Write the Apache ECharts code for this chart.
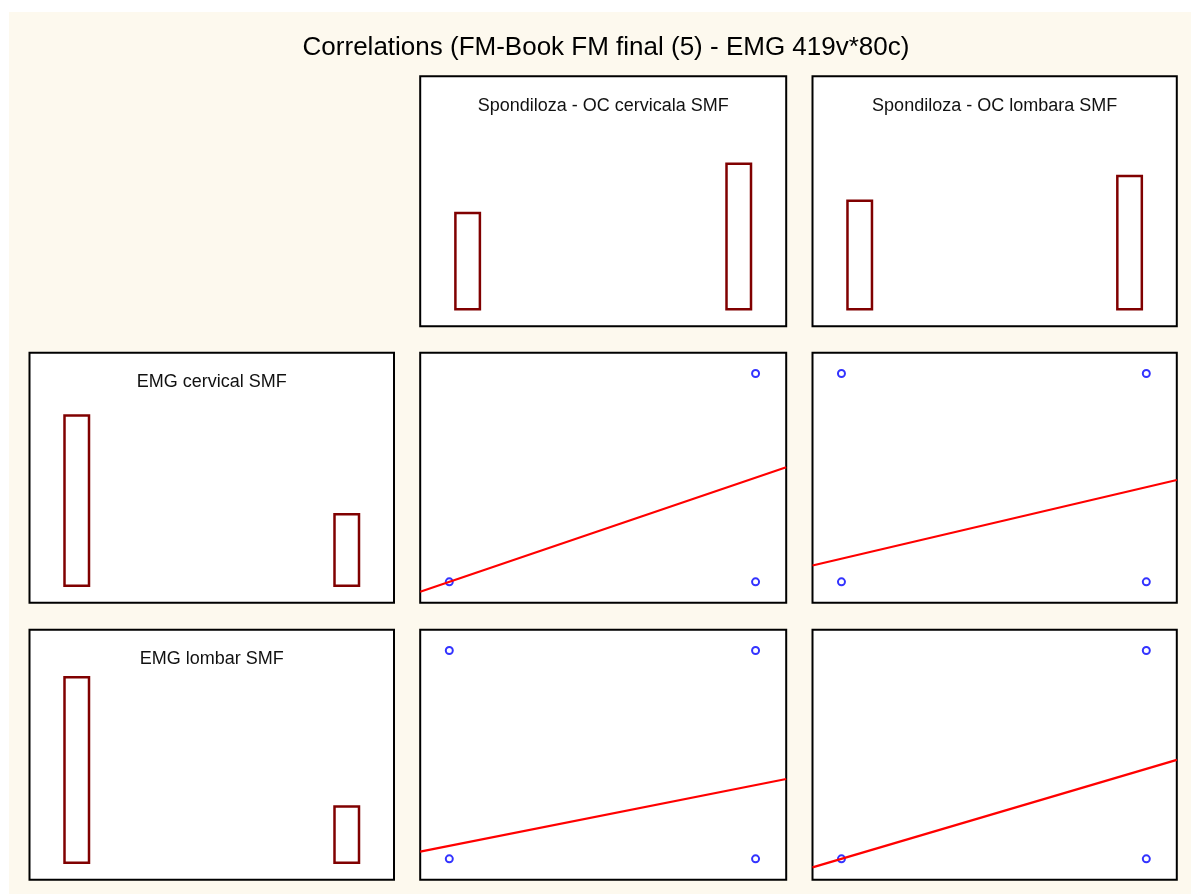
<!DOCTYPE html>
<html>
<head>
<meta charset="utf-8">
<title>Correlations</title>
<script src="https://cdn.jsdelivr.net/npm/echarts@6/dist/echarts.min.js"></script>
<style>
  html, body { margin: 0; padding: 0; background: #fff; }
  #main { position: absolute; left: 9px; top: 12px; width: 1182px; height: 882px; }
</style>
</head>
<body>
<div id="main"></div>
<script>
// matrix variables
var colVars = ['Spondiloza - OC cervicala SMF', 'Spondiloza - OC lombara SMF'];
var rowVars = ['EMG cervical SMF', 'EMG lombar SMF'];
var binValues = [0, 1];

// frequencies of 0 / 1 for each variable (histograms)
var spondCervCounts = [32, 48];
var spondLombCounts = [36, 44];
var emgCervCounts = [56, 24];
var emgLombCounts = [61, 19];

// cross tables: [x value][y value] -> cases
var emgCervBySpondCerv = [[32, 0], [24, 24]];
var emgCervBySpondLomb = [[32, 4], [24, 20]];
var emgLombBySpondCerv = [[30, 2], [31, 17]];
var emgLombBySpondLomb = [[36, 0], [25, 19]];

var FONT = 'Arial, "Liberation Sans", sans-serif';
var OFF_X = 9, OFF_Y = 12;
var colLeft = [29.5, 420.2, 812.5];
var colWidth = [364.5, 366, 364.3];
var rowTop = [76.2, 352.7, 629.7];
var rowHeight = 250;

var histX = [-0.175, 1.175], histY = [-5.13, 76.0];
var scatX = [-0.095, 1.1], scatY = [-0.1, 1.1];

var grids = [], xAxes = [], yAxes = [], series = [], titles = [];

titles.push({
  text: 'Correlations (FM-Book FM final (5) - EMG 419v*80c)',
  left: 606 - OFF_X, top: 47.5 - OFF_Y, padding: 0,
  textAlign: 'center', textVerticalAlign: 'middle',
  textStyle: {fontFamily: FONT, fontSize: 26, fontWeight: 'normal', color: '#000'}
});

function addPanel(r, c, xr, yr) {
  grids.push({
    left: colLeft[c] - OFF_X, top: rowTop[r] - OFF_Y,
    width: colWidth[c], height: rowHeight,
    show: true, backgroundColor: '#fff', borderColor: '#000', borderWidth: 2
  });
  var idx = grids.length - 1;
  xAxes.push({gridIndex: idx, type: 'value', min: xr[0], max: xr[1], show: false});
  yAxes.push({gridIndex: idx, type: 'value', min: yr[0], max: yr[1], show: false});
  return idx;
}

function addHist(r, c, name, counts) {
  var idx = addPanel(r, c, histX, histY);
  titles.push({
    text: name,
    left: colLeft[c] + colWidth[c] / 2 - OFF_X, top: rowTop[r] + 29.6 - OFF_Y, padding: 0,
    textAlign: 'center', textVerticalAlign: 'middle',
    textStyle: {fontFamily: FONT, fontSize: 18, fontWeight: 'normal', color: '#111'}
  });
  series.push({
    type: 'bar', xAxisIndex: idx, yAxisIndex: idx, barWidth: 27, silent: true,
    data: binValues.map(function(v, i) { return [v, counts[i]]; }),
    itemStyle: {color: '#fff', borderColor: '#800000', borderWidth: 2.5}
  });
}

function addScatter(r, c, table) {
  var idx = addPanel(r, c, scatX, scatY);
  var pts = [];
  binValues.forEach(function(xv, i) {
    binValues.forEach(function(yv, j) {
      if (table[i][j] > 0) pts.push([xv, yv]);
    });
  });
  // least squares line for a 0/1 predictor: intercept = mean(y|x=0), slope = diff of means
  var p0 = table[0][1] / (table[0][0] + table[0][1]);
  var p1 = table[1][1] / (table[1][0] + table[1][1]);
  var slope = p1 - p0;
  series.push({
    type: 'line', xAxisIndex: idx, yAxisIndex: idx, silent: true, symbol: 'none',
    lineStyle: {color: '#ff0000', width: 2.2},
    data: [[scatX[0], p0 + slope * scatX[0]], [scatX[1], p0 + slope * scatX[1]]]
  });
  series.push({
    type: 'scatter', xAxisIndex: idx, yAxisIndex: idx, silent: true,
    symbol: 'emptyCircle', symbolSize: 7,
    itemStyle: {color: '#0000ff', borderWidth: 1.5},
    data: pts
  });
}

addHist(0, 1, colVars[0], spondCervCounts);
addHist(0, 2, colVars[1], spondLombCounts);
addHist(1, 0, rowVars[0], emgCervCounts);
addHist(2, 0, rowVars[1], emgLombCounts);
addScatter(1, 1, emgCervBySpondCerv);
addScatter(1, 2, emgCervBySpondLomb);
addScatter(2, 1, emgLombBySpondCerv);
addScatter(2, 2, emgLombBySpondLomb);

var myChart = echarts.init(document.getElementById('main'));
myChart.setOption({
  backgroundColor: '#fdf9ee',
  animation: false,
  title: titles,
  grid: grids,
  xAxis: xAxes,
  yAxis: yAxes,
  series: series
});
</script>
</body>
</html>
